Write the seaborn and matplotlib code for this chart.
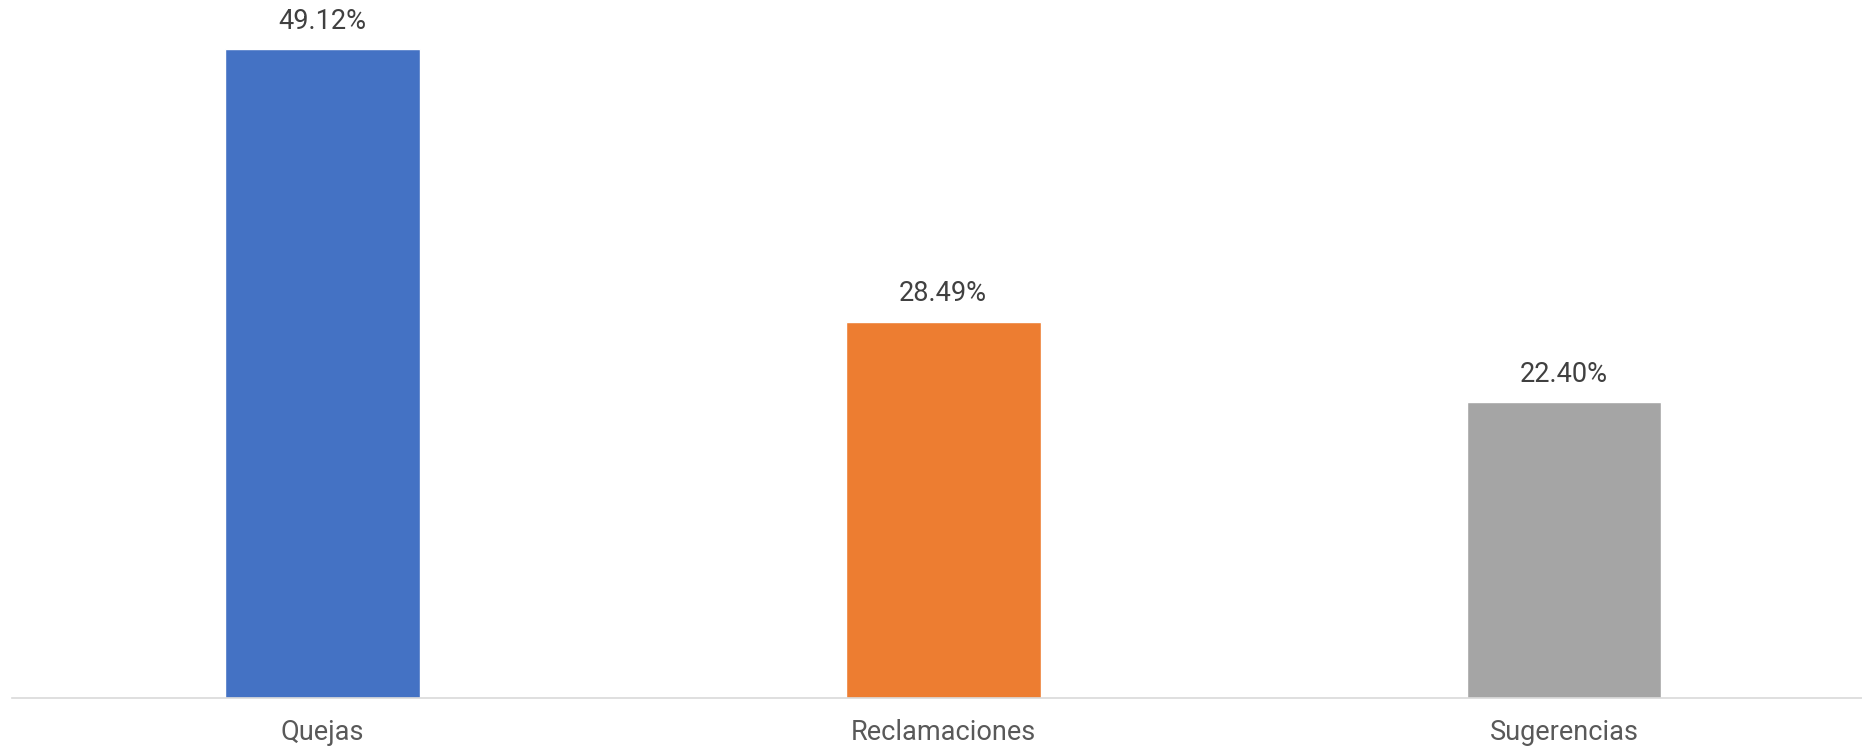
import pandas as pd
import matplotlib.pyplot as plt
import seaborn as sns

categorias = ["Quejas", "Reclamaciones", "Sugerencias"]
porcentajes = [49.12, 28.49, 22.40]
colores = ["#4472c4", "#ed7d31", "#a5a5a5"]

df = pd.DataFrame({"Tipo": categorias, "Porcentaje": porcentajes})

sns.set_style("white")
plt.rcParams["font.family"] = ["Roboto", "DejaVu Sans"]

fig = plt.figure(figsize=(18.62, 7.47), dpi=100)
base = 697.6
ax = fig.add_axes([12 / 1862, 1 - base / 747, 1 - 12 / 1862, base / 747])

sns.barplot(data=df, x="Tipo", y="Porcentaje", hue="Tipo", palette=colores,
            width=0.314, saturation=1, legend=False, ax=ax)

ax.set_xlim(-0.5, 2.48)
ax.set_ylim(0, base / 13.2)

for i, v in enumerate(porcentajes):
    ax.annotate(f"{v:.2f}%", (i, v), xytext=(0, 20), textcoords="offset points",
                ha="center", va="center", fontsize=19.5, color="#404040")

for s in ["top", "right", "left"]:
    ax.spines[s].set_visible(False)
ax.spines["bottom"].set_color("#d9d9d9")
ax.spines["bottom"].set_linewidth(1.2)
ax.set_yticks([])
ax.set_xlabel("")
ax.set_ylabel("")
ax.tick_params(axis="x", length=0, pad=15.5, labelsize=19.5, labelcolor="#595959")

fig.savefig("out.png", dpi=100)
